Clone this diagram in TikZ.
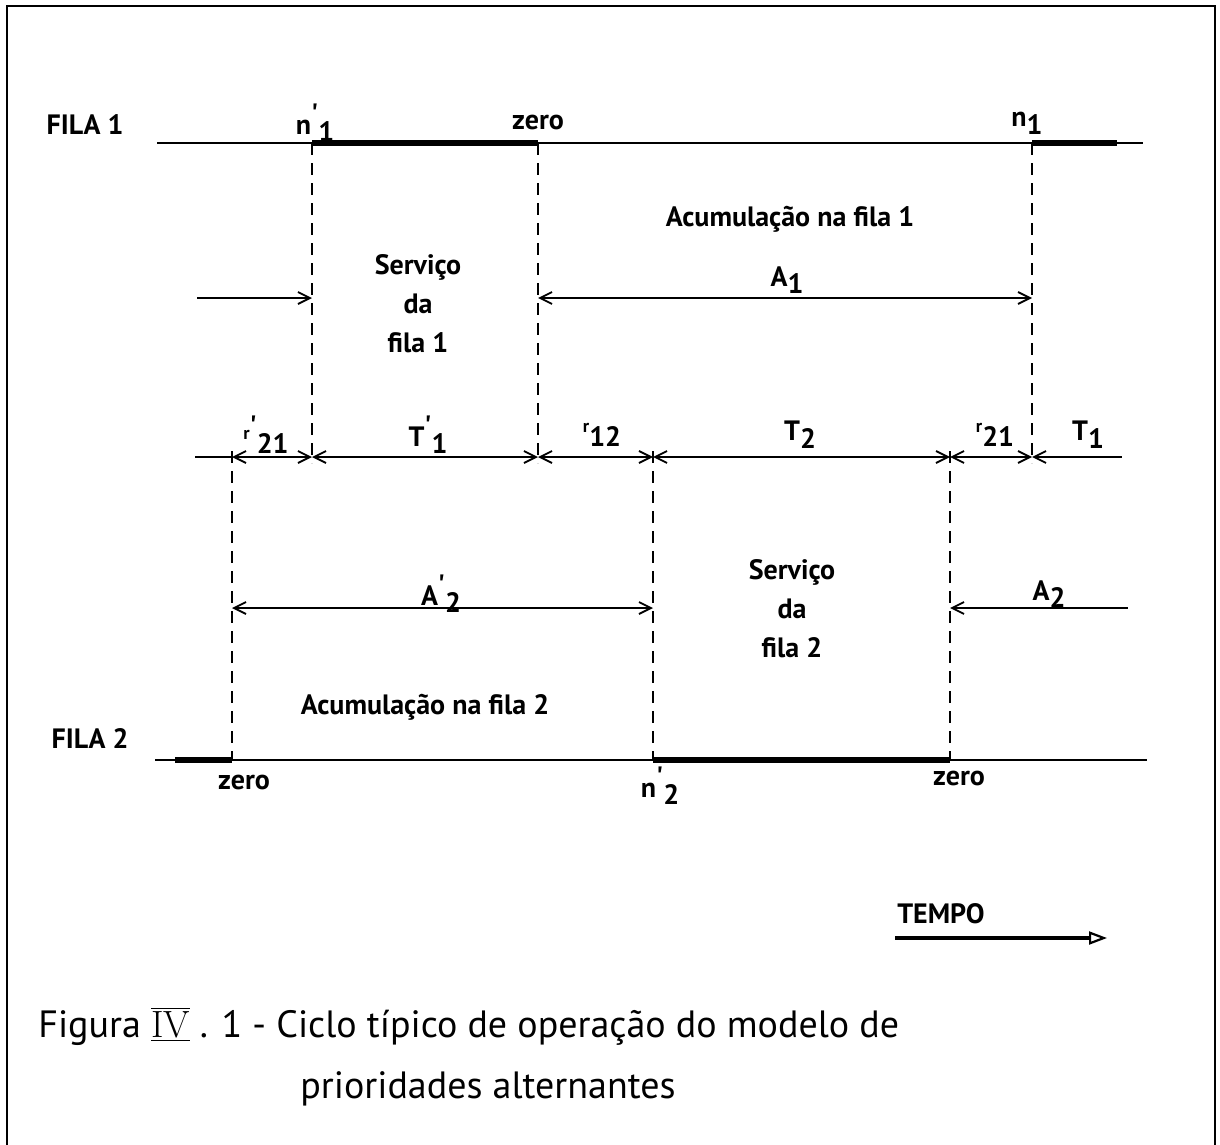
\documentclass[tikz,border=0pt]{standalone}
\usepackage{fontspec}
\usetikzlibrary{arrows.meta}
\newfontfamily\lett{PT Sans}
\newcommand{\lsub}[1]{\raisebox{-0.55ex}{#1}}
\newcommand{\prm}{\raisebox{0.75ex}{\textquotesingle}}
\newcommand{\rsm}{{\small\raisebox{0.7ex}{r}}}

\begin{document}
\begin{tikzpicture}[x=0.5pt,y=-0.5pt,
  lab/.style={font=\lett\bfseries\fontsize{14}{19.5}\selectfont, inner sep=0pt, align=center},
  legenda/.style={font=\lett\fontsize{19}{22}\selectfont, inner sep=0pt, anchor=base west},
  guide/.style={dash pattern=on 6pt off 4pt, line width=0.9pt},
  busy/.style={line width=2.8pt},
  thin/.style={line width=0.9pt},
  dim/.style={thin, >={Straight Barb[length=6pt,width=6pt]}}]
\useasboundingbox (0,0) rectangle (1220,1145);
\draw[thin] (7,1145) -- (7,6) -- (1215,6) -- (1215,1145);

% instants on the three levels
\foreach \n/\x in {a/232,b/312,c/538,d/653,e/950,f/1032} {
  \coordinate (u\n) at (\x,143);
  \coordinate (m\n) at (\x,457);
  \coordinate (l\n) at (\x,760);
}
\coordinate (uL) at (157,143); \coordinate (uR) at (1143,143); \coordinate (uE) at (1117,143);
\coordinate (mL) at (195,457); \coordinate (mR) at (1122,457);
\coordinate (lL) at (155,760); \coordinate (lR) at (1147,760); \coordinate (lS) at (175,760);

% fila 1
\draw[thin] (uL) -- (uR);
\draw[busy] (ub) -- (uc) (uf) -- (uE);
\foreach \n in {b,c,f} \draw[guide] (u\n) -- ([yshift=-3pt]m\n);

% fila 2
\draw[thin] (lL) -- (lR);
\draw[busy] (lS) -- (la) (ld) -- (le);
\foreach \n in {a,d,e} \draw[guide] ([yshift=3pt]m\n) -- (l\n);

% intervalos
\draw[thin] (mL) -- (ma);
\foreach \p/\q in {a/b,b/c,c/d,d/e,e/f} \draw[dim,<->] (m\p) -- (m\q);
\draw[dim,<-] (mf) -- (mR);

% acumulacao
\coordinate (k1) at (197,298); \coordinate (k1b) at (312,298);
\coordinate (k2) at (538,298); \coordinate (k2b) at (1032,298);
\coordinate (k3) at (232,608); \coordinate (k3b) at (653,608);
\coordinate (k4) at (950,608); \coordinate (k4b) at (1128,608);
\draw[dim,->] (k1) -- (k1b);
\draw[dim,<->] (k2) -- (k2b);
\draw[dim,<->] (k3) -- (k3b);
\draw[dim,<-] (k4) -- (k4b);

\node[lab] (fila1) at (85,125) {FILA 1};
\node[lab] (n1p) at (315,123) {n\prm\lsub{1}};
\node[lab] (zero1) at (538,123) {zero};
\node[lab] (n1) at (1027,123) {n\lsub{1}};
\node[lab] (acum1) at (790,219) {Acumulação na fila 1};
\node[lab] (a1) at (787,280) {A\lsub{1}};
\node[lab] (serv1) at (418,304) {Serviço\\da\\fila 1};

\node[lab] (r21p) at (266,435) {\rsm\prm\lsub{21}};
\node[lab] (t1p) at (428,435) {T\prm\lsub{1}};
\node[lab] (r12) at (602,435) {\rsm\lsub{12}};
\node[lab] (t2) at (800,435) {T\lsub{2}};
\node[lab] (r21) at (995,435) {\rsm\lsub{21}};
\node[lab] (t1) at (1088,435) {T\lsub{1}};

\node[lab] (a2p) at (441,594) {A\prm\lsub{2}};
\node[lab] (a2) at (1049,594) {A\lsub{2}};
\node[lab] (serv2) at (792,609) {Serviço\\da\\fila 2};
\node[lab] (acum2) at (425,707) {Acumulação na fila 2};
\node[lab] (fila2) at (90,738) {FILA 2};
\node[lab] (zero2) at (244,782) {zero};
\node[lab] (n2p) at (660,786) {n\prm\lsub{2}};
\node[lab] (zero3) at (959,778) {zero};

% tempo
\node[lab] (tempo) at (941,914) {TEMPO};
\coordinate (t0) at (895,938); \coordinate (t9) at (1107,938);
\draw[line width=1.6pt, -{Triangle[open,length=9pt,width=6.5pt,line width=1.1pt]}] (t0) -- (t9);

\node[legenda] (leg1) at (38,1037) {Figura $\overline{\underline{\mbox{\rmfamily IV}}}$ . 1 - Ciclo típico de operação do modelo de};
\node[legenda] (leg2) at (300,1098) {prioridades alternantes};
\end{tikzpicture}
\end{document}
